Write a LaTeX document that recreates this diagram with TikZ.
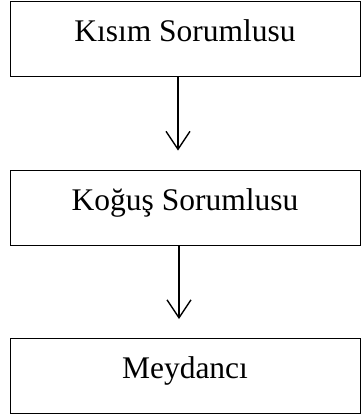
\documentclass[tikz,border=0pt]{standalone}
\usepackage{fontspec}
\setmainfont{Liberation Serif}
\usetikzlibrary{positioning, arrows.meta}

\begin{document}
\begin{tikzpicture}[
      on grid,
      node distance = 168.5pt,
      font = \fontsize{31.5}{36}\selectfont,
      box/.style = {draw, line width = 0.8pt, minimum width = 350pt,
        inner xsep = 0pt, inner ysep = 0pt, text height = 40pt, text depth = 35pt},
      link/.style = {-{Straight Barb[length = 18pt, width = 24pt]},
        line width = 1.4pt, shorten > = 19pt}]

      \useasboundingbox (0,0) rectangle (361pt,-418pt);

      \node [box] (kisim) at (185pt,-39pt) {Kısım Sorumlusu};
      \node [box, below = of kisim] (kogus) {Koğuş Sorumlusu};
      \node [box, below = of kogus] (meydanci) {Meydancı};

      \draw [link] ([xshift = -7pt]kisim.south) -- ([xshift = -7pt]kogus.north);
      \draw [link] ([xshift = -6pt]kogus.south) -- ([xshift = -6pt]meydanci.north);
  \end{tikzpicture}
\end{document}
